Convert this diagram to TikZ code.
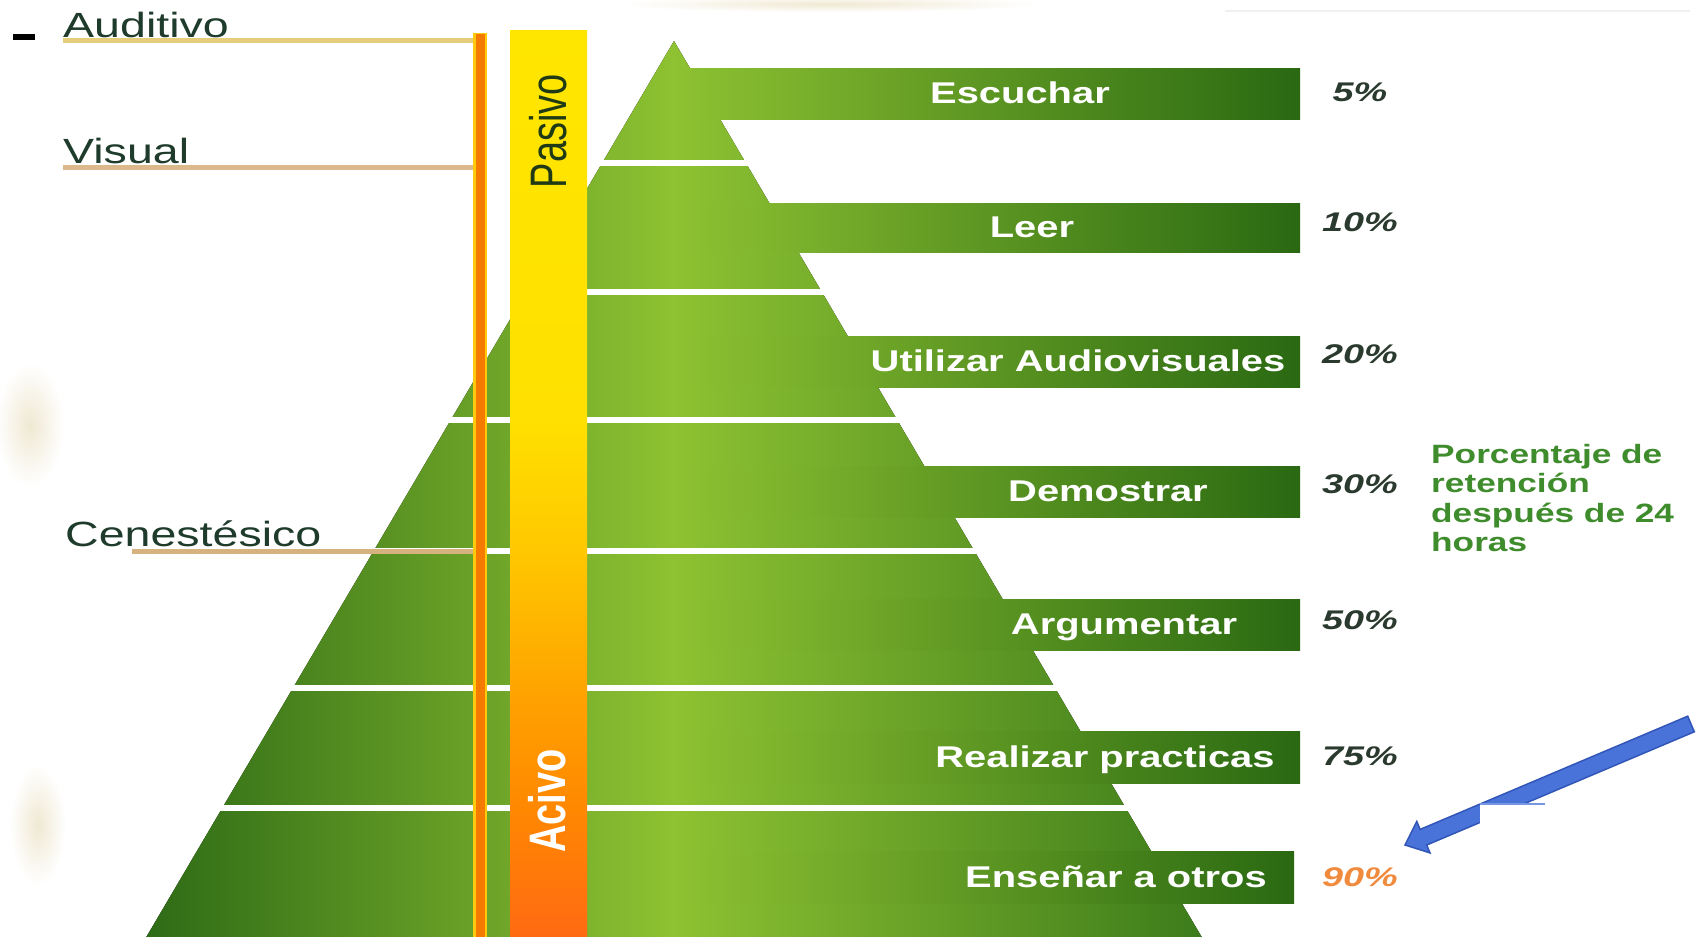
\documentclass[tikz,border=0pt]{standalone}
\usepackage{fontspec}
\setmainfont{Liberation Sans}
\usepackage{graphicx}
\definecolor{pyrL}{HTML}{2E6B16}
\definecolor{pyrM}{HTML}{8EC232}
\definecolor{pyrR}{HTML}{3D7C1B}
\definecolor{barL}{HTML}{8EC232}
\definecolor{barR}{HTML}{2A6912}
\definecolor{ob1}{HTML}{FF6A12}
\definecolor{ob2}{HTML}{FF8A00}
\definecolor{ob3}{HTML}{FFA400}
\definecolor{ob4}{HTML}{FFC800}
\definecolor{ob5}{HTML}{FFE000}
\definecolor{ob6}{HTML}{FFE600}
\definecolor{axisOr}{HTML}{F47A00}
\definecolor{axisYe}{HTML}{FFC90E}
\definecolor{audline}{HTML}{E6CD7C}
\definecolor{visline}{HTML}{DBB98A}
\definecolor{cenline}{HTML}{D6B27E}
\definecolor{sidetext}{HTML}{1E3B2B}
\definecolor{pcttext}{HTML}{2B3A2E}
\definecolor{pctorange}{HTML}{F08A3C}
\definecolor{notegreen}{HTML}{3F8C2D}
\definecolor{pasivotext}{HTML}{1F3A14}
\definecolor{arrowblue}{HTML}{4A73D9}
\definecolor{arrowedge}{HTML}{3256B8}
\definecolor{smudge}{HTML}{EFE8D2}
\pgfdeclareverticalshading{actbar}{100bp}{color(0bp)=(ob1); color(25bp)=(ob1); color(32.6bp)=(ob2); color(38.6bp)=(ob3); color(46.3bp)=(ob4); color(53.5bp)=(ob5); color(75bp)=(ob6); color(100bp)=(ob6)}
\newcommand{\stretchx}[1]{\scalebox{1.33}[1]{#1}}
\newcommand{\stretchp}[1]{\scalebox{1.4}[1]{#1}}
\newcommand{\stretchv}[1]{\scalebox{1}[1.35]{#1}}
\tikzset{
  barfill/.style={left color=barL, right color=barR},
  barlbl/.style={inner sep=0pt, text=white, font=\bfseries\fontsize{30}{36}\selectfont},
  pctlbl/.style={inner sep=0pt, font=\bfseries\itshape\fontsize{27}{32}\selectfont},
  sidelbl/.style={inner sep=0pt, text=sidetext, font=\fontsize{35}{40}\selectfont},
  sideline/.style={line width=5pt},
  gapline/.style={white, line width=6pt},
  notelbl/.style={inner sep=0pt, text=notegreen, align=left, font=\bfseries\fontsize{26.5}{29.5}\selectfont},
  smudgeblob/.style={inner color=smudge, outer color=white},
}
\begin{document}
\begin{tikzpicture}[x=1pt,y=-1pt]
\useasboundingbox (0,0) rectangle (1698,937);
\fill[white] (0,0) rectangle (1698,937);
% faint background smudges
\shade[smudgeblob] (30,425) ellipse [x radius=34pt, y radius=62pt];
\shade[smudgeblob] (38,825) ellipse [x radius=28pt, y radius=60pt];
\shade[smudgeblob] (830,4) ellipse [x radius=210pt, y radius=8pt];
\fill[black!6] (1225,10) rectangle (1690,12);
% small dash
\fill[black] (13,34) rectangle (35,40);
% pyramid
\fill[left color=pyrL, right color=pyrR, middle color=pyrM] (674,41) -- (1201.7,937) -- (146.3,937) -- cycle;
% bars, labels, percentages
\foreach \i/\t/\b/\r/\lx/\lab/\py/\pct/\pc in {
  1/68/119/1300/1020/Escuchar/92/5\%/pcttext,
  2/203/252/1300/1032/Leer/222/10\%/pcttext,
  3/336/387/1300/1078/Utilizar Audiovisuales/354/20\%/pcttext,
  4/466/517/1300/1108/Demostrar/484/30\%/pcttext,
  5/599/650/1300/1124/Argumentar/620/50\%/pcttext,
  6/731/783/1300/1105/Realizar practicas/756/75\%/pcttext,
  7/851/903/1294/1116/Enseñar a otros/877/90\%/pctorange}
{
  \fill[barfill] (674,\t) rectangle (\r,\b);
  \node[barlbl, anchor=base] (lab\i) at (\lx,{(\t+\b)/2+10}) {\stretchx{\lab}};
  \node[pctlbl, text=\pc, anchor=base] (pct\i) at (1360,{\py+9.5}) {\stretchp{\pct}};
}
% white gaps between levels
\foreach \y in {163,292,420,551,688,808}
  \draw[gapline] ({674-0.589*(\y-41)-2},\y) -- ({674+0.589*(\y-41)+2},\y);
% left labels and their lines
\node[sidelbl, anchor=base west] (aud) at (63,37) {\stretchx{Auditivo}};
\node[sidelbl, anchor=base west] (vis) at (63,163) {\stretchx{Visual}};
\node[sidelbl, anchor=base west] (cen) at (65,546) {\stretchx{Cenestésico}};
\coordinate (axT) at (480,33);
\coordinate (axB) at (480,937);
\coordinate (audA) at (63,40);
\coordinate (audB) at (480,40);
\coordinate (visA) at (63,167);
\coordinate (visB) at (480,167);
\coordinate (cenA) at (132,551);
\coordinate (cenB) at (480,551);
\draw[sideline, audline] (audA) -- (audB);
\draw[sideline, visline] (visA) -- (visB);
\draw[sideline, cenline] (cenA) -- (cenB);
% passive / active bar
\shade[shading=actbar] (510,30) rectangle (587,937);
\node[inner sep=0pt, rotate=90, text=pasivotext, font=\fontsize{38}{42}\selectfont] (pasivo) at (548,131) {\stretchv{Pasivo}};
\node[inner sep=0pt, rotate=90, text=white, font=\bfseries\fontsize{38}{42}\selectfont] (activo) at (547,801) {\stretchv{Acivo}};
% vertical axis line
\draw[axisYe, line width=14pt] (axT) -- (axB);
\draw[axisOr, line width=9pt] ([yshift=-1pt]axT) -- (axB);
% note text
\node[notelbl, anchor=north west] (note) at (1431,444)
  {\stretchx{Porcentaje de}\\\stretchx{retención}\\\stretchx{después de 24}\\\stretchx{horas}};
% blue arrow
\coordinate (arrTip) at (1405,845);
\fill[arrowblue, draw=arrowedge, line width=1.5pt, line join=miter]
  (arrTip) -- (1416.8,821.5) -- (1420.1,829.4) -- (1687.7,716.2) -- (1694.3,731.8)
  -- (1426.7,845.0) -- (1430.0,852.9) -- cycle;
\fill[white] (1480,804.5) rectangle (1600,840);
\fill[arrowblue!75] (1480,803) rectangle (1545,804.5);
\end{tikzpicture}
\end{document}
